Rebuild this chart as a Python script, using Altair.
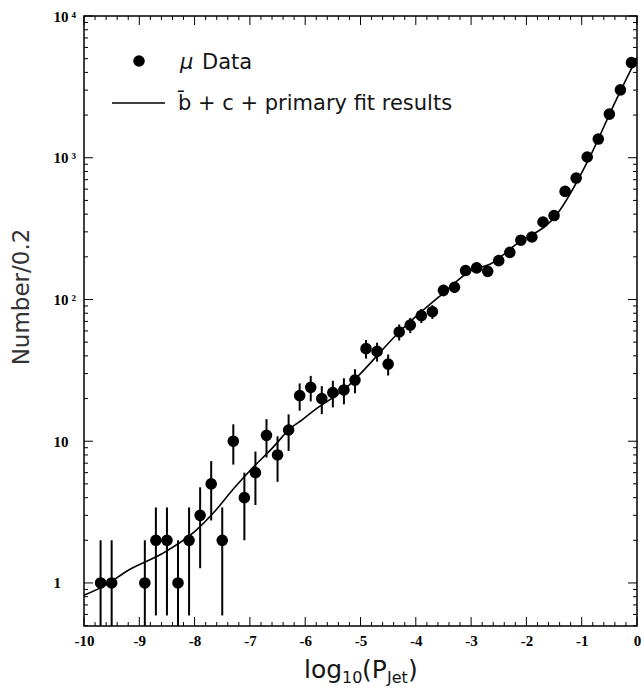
import altair as alt
import pandas as pd

# ---- data ----
bin_x = [-9.7, -9.5, -8.9, -8.7, -8.5, -8.3, -8.1, -7.9, -7.7, -7.5, -7.3, -7.1,
         -6.9, -6.7, -6.5, -6.3, -6.1, -5.9, -5.7, -5.5, -5.3, -5.1, -4.9, -4.7,
         -4.5, -4.3, -4.1, -3.9, -3.7, -3.5, -3.3, -3.1, -2.9, -2.7, -2.5, -2.3,
         -2.1, -1.9, -1.7, -1.5, -1.3, -1.1, -0.9, -0.7, -0.5, -0.3, -0.1]
counts = [1, 1, 1, 2, 2, 1, 2, 3, 5, 2, 10, 4,
          6, 11, 8, 12, 21, 24, 20, 22, 23, 27, 45, 43,
          35, 59, 66, 77, 82, 116, 122, 160, 167, 158, 188, 215,
          262, 276, 352, 391, 579, 719, 1012, 1355, 2032, 3013, 4690]
errors = [1.0, 1.0, 1.0, 1.41, 1.41, 1.0, 1.41, 1.73, 2.24, 1.41, 3.16, 2.0,
          2.45, 3.32, 2.83, 3.46, 4.58, 4.90, 4.47, 4.69, 4.80, 5.20, 6.71, 6.56,
          5.92, 7.68, 8.12, 8.77, 9.06, 10.77, 11.05, 12.65, 12.92, 12.57, 13.71, 14.66,
          16.19, 16.61, 18.76, 19.77, 24.06, 26.81, 31.81, 36.81, 45.08, 54.89, 68.48]

fit_x = [-10.0, -9.6, -9.2, -8.6, -8.0, -7.65, -7.3, -6.95, -6.6, -6.25, -6.05,
         -5.85, -5.5, -5.2, -5.0, -4.3, -3.5, -3.0, -2.65, -2.2, -1.45, -0.85, -0.4, 0.0]
fit_y = [0.82, 0.97, 1.23, 1.6, 2.3, 3.15, 4.6, 6.5, 8.9, 12.5, 14.2,
         16.4, 20.3, 25.0, 30.0, 59.0, 111.0, 160.0, 178.0, 243.0, 398.0, 1018.0, 2450.0, 5100.0]

x_major = [-10, -9, -8, -7, -6, -5, -4, -3, -2, -1, 0]
x_minor = [round(-10 + 0.2 * i, 1) for i in range(51) if i % 5 != 0]
y_major = [1, 10, 100, 1000, 10000]
y_minor = [m * 10 ** e for e in range(-1, 4) for m in range(2, 10) if m * 10 ** e >= 0.5]

W, H = 553, 610

df = pd.DataFrame({"x": bin_x, "n": counts, "err": errors})
df["hi"] = df["n"] + df["err"]
df["lo"] = (df["n"] - df["err"]).clip(lower=0.3)
fit = pd.DataFrame({"x": fit_x, "y": fit_y})
one = pd.DataFrame({"a": [1]})

xs = alt.Scale(domain=[-10, 0], nice=False, zero=False)
ys = alt.Scale(type="log", domain=[0.497, 10000], nice=False)

xaxis = alt.Axis(values=x_major, ticks=False, domain=False, grid=False, title=None,
                 labelExpr="datum.value < 0 ? '-' + abs(datum.value) : '' + datum.value",
                 labelFont="Liberation Serif", labelFontWeight="bold", labelFontSize=15,
                 labelColor="black", labelPadding=7, labelFlush=False)
yaxis = alt.Axis(values=y_major, ticks=False, domain=False, grid=False, title=None,
                 labelExpr="datum.value == 1 ? '1' : datum.value == 10 ? '10' : datum.value == 100 ? '10\u2009²' : datum.value == 1000 ? '10\u2009³' : '10\u2009⁴'",
                 labelFont="Liberation Serif", labelFontWeight="bold", labelFontSize=15,
                 labelColor="black", labelAlign="left", labelBaseline="middle",
                 labelPadding=31, labelFlush=False)

X = lambda f: alt.X(f, type="quantitative", scale=xs, axis=xaxis)
Y = lambda f: alt.Y(f, type="quantitative", scale=ys, axis=yaxis)

def xticks(vals, size):
    d = pd.DataFrame({"t": vals})
    bot = alt.Chart(d).mark_rule(color="black", strokeWidth=1).encode(
        x=X("t"), y=alt.value(H), y2=alt.value(H - size))
    top = alt.Chart(d).mark_rule(color="black", strokeWidth=1).encode(
        x=X("t"), y=alt.value(0), y2=alt.value(size))
    return [bot, top]

def yticks(vals, size):
    d = pd.DataFrame({"t": vals})
    left = alt.Chart(d).mark_rule(color="black", strokeWidth=1).encode(
        y=Y("t"), x=alt.value(0), x2=alt.value(size))
    right = alt.Chart(d).mark_rule(color="black", strokeWidth=1).encode(
        y=Y("t"), x=alt.value(W), x2=alt.value(W - size))
    return [left, right]

errbars = alt.Chart(df).mark_rule(color="black", strokeWidth=2, clip=True).encode(
    x=X("x"), y=Y("lo"), y2="hi")
points = alt.Chart(df).mark_point(filled=True, color="black", size=135, opacity=1).encode(
    x=X("x"), y=Y("n"))
line = alt.Chart(fit).mark_line(color="black", strokeWidth=1.6, interpolate="monotone", clip=True).encode(
    x=X("x"), y=Y("y"))

def txt(s, x, y, size, font="DejaVu Sans", align="left", baseline="alphabetic", angle=0,
        style="normal", color="#151515"):
    return alt.Chart(one).mark_text(text=s, font=font, fontSize=size, align=align,
                                    baseline=baseline, angle=angle, fontStyle=style,
                                    color=color).encode(x=alt.value(x), y=alt.value(y))

# legend
leg_dot = alt.Chart(one).mark_point(filled=True, color="black", size=135, opacity=1).encode(
    x=alt.value(55), y=alt.value(45))
leg_line = alt.Chart(one).mark_rule(color="black", strokeWidth=1.6).encode(
    x=alt.value(28), x2=alt.value(81), y=alt.value(87))
leg_t1 = txt("μ", 96, 53, 21, style="italic")
leg_t2 = txt("Data", 118, 53, 21)
leg_t3 = txt("b\u0304 + c + primary fit results", 94, 94, 21)

# axis titles
ytitle = txt("Number/0.2", -62, 281, 23, align="center", baseline="middle", angle=270, color="#333333")
xt1 = txt("log", 220, 662, 25)
xt2 = txt("10", 258, 667, 16)
xt3 = txt("(P", 278, 662, 25)
xt4 = txt("Jet", 303, 667, 16)
xt5 = txt(")", 324, 662, 25)

layers = (xticks(x_minor, 4) + xticks(x_major, 9) + yticks(y_minor, 4) + yticks(y_major, 9)
          + [errbars, line, points, leg_dot, leg_line, leg_t1, leg_t2, leg_t3,
             ytitle, xt1, xt2, xt3, xt4, xt5])

chart = alt.layer(*layers).properties(
    width=W, height=H,
    autosize=alt.AutoSizeParams(type="none"),
    padding={"left": 84, "top": 16, "right": 7, "bottom": 64},
    background="white",
).configure_view(stroke="black", strokeWidth=1.5)

chart.save("out.html", embed_options={"renderer": "svg", "actions": False})
